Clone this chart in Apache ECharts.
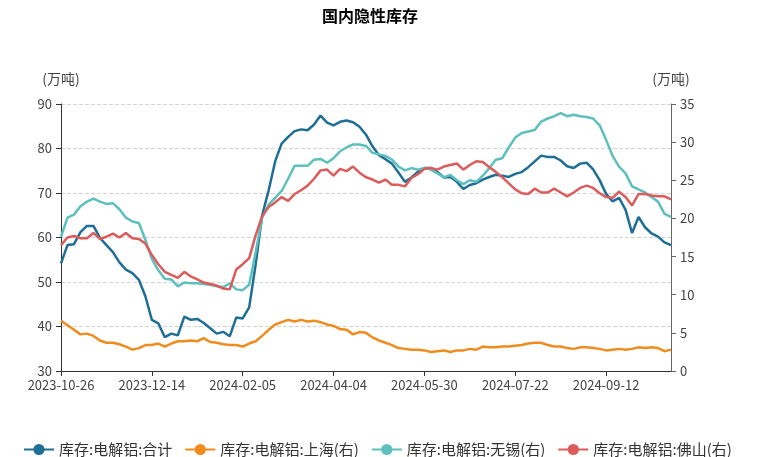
<!DOCTYPE html>
<html>
<head>
<meta charset="utf-8">
<script src="https://cdn.jsdelivr.net/npm/echarts@6/dist/echarts.min.js"></script>
<style>html,body{margin:0;padding:0;background:#fff;}#c{width:763px;height:457px;}</style>
</head>
<body>
<div id="c"></div>
<script>
const titleText = '国内隐性库存';
const unitName = '(万吨)';
const seriesNames = ['库存:电解铝:合计', '库存:电解铝:上海(右)', '库存:电解铝:无锡(右)', '库存:电解铝:佛山(右)'];

const dates = [
'2023-10-26','2023-10-30','2023-11-02','2023-11-06','2023-11-09','2023-11-13','2023-11-16','2023-11-20','2023-11-23','2023-11-27',
'2023-11-30','2023-12-04','2023-12-07','2023-12-11','2023-12-14','2023-12-18','2023-12-21','2023-12-25','2023-12-28','2024-01-04',
'2024-01-08','2024-01-11','2024-01-15','2024-01-18','2024-01-22','2024-01-25','2024-01-29','2024-02-01','2024-02-05','2024-02-08',
'2024-02-19','2024-02-22','2024-02-26','2024-02-29','2024-03-04','2024-03-07','2024-03-11','2024-03-14','2024-03-18','2024-03-21',
'2024-03-25','2024-04-01','2024-04-04','2024-04-08','2024-04-11','2024-04-15','2024-04-18','2024-04-22','2024-04-25','2024-04-29',
'2024-05-06','2024-05-09','2024-05-13','2024-05-16','2024-05-20','2024-05-23','2024-05-30','2024-06-03','2024-06-06','2024-06-13',
'2024-06-17','2024-06-20','2024-06-24','2024-06-27','2024-07-01','2024-07-04','2024-07-08','2024-07-11','2024-07-15','2024-07-18',
'2024-07-22','2024-07-25','2024-07-29','2024-08-01','2024-08-05','2024-08-08','2024-08-12','2024-08-15','2024-08-19','2024-08-22',
'2024-08-26','2024-08-29','2024-09-02','2024-09-05','2024-09-12','2024-09-19','2024-09-23','2024-09-26','2024-09-29','2024-10-08',
'2024-10-10','2024-10-14','2024-10-17','2024-10-21','2024-10-24'
];

// 合计 (left axis)
const totalStock = [
54.2,58.3,58.5,61.2,62.6,62.6,59.9,58.3,56.7,54.4,
52.8,52.0,50.5,46.8,41.5,40.7,37.6,38.4,38.0,42.2,
41.5,41.7,40.8,39.6,38.4,38.8,37.8,42.0,41.8,44.3,
54.0,65.0,70.6,77.1,81.1,82.6,83.9,84.3,84.1,85.4,
87.4,85.8,85.2,86.0,86.3,85.9,84.9,83.1,80.5,78.5,
77.6,76.6,74.6,72.5,73.5,74.8,75.6,75.6,74.7,73.5,
73.6,72.5,70.9,71.8,72.2,73.0,73.6,74.1,73.9,73.6,
74.3,74.7,75.8,77.1,78.4,78.1,78.1,77.3,76.0,75.6,
76.6,76.8,75.3,72.9,69.8,68.1,68.9,66.2,61.0,64.6,
62.3,60.9,60.2,58.9,58.3
];

// 上海 (right axis)
const shanghaiStock = [
6.6,6.0,5.4,4.8,4.9,4.6,4.0,3.7,3.7,3.5,
3.2,2.8,3.0,3.4,3.4,3.6,3.2,3.6,3.9,3.9,
4.0,3.9,4.3,3.8,3.7,3.5,3.4,3.4,3.2,3.6,
3.9,4.6,5.4,6.1,6.4,6.7,6.5,6.7,6.5,6.6,
6.4,6.1,5.9,5.5,5.4,4.8,5.1,5.0,4.4,4.0,
3.7,3.4,3.0,2.9,2.8,2.8,2.7,2.5,2.6,2.7,
2.5,2.7,2.7,2.9,2.8,3.2,3.1,3.1,3.2,3.2,
3.3,3.4,3.6,3.7,3.7,3.4,3.2,3.2,3.0,2.9,
3.1,3.1,3.0,2.9,2.7,2.8,2.9,2.8,2.9,3.1,
3.0,3.1,3.0,2.6,2.8
];

// 无锡 (right axis)
const wuxiStock = [
17.6,20.1,20.5,21.6,22.2,22.6,22.2,21.9,22.0,21.2,
20.1,19.6,19.4,17.2,14.7,13.2,12.1,12.0,11.1,11.6,
11.5,11.5,11.4,11.3,11.1,11.0,11.5,10.7,10.6,11.3,
15.6,20.1,21.8,22.7,23.6,25.2,26.9,26.9,26.9,27.7,
27.8,27.3,27.9,28.8,29.3,29.7,29.7,29.5,28.6,28.4,
28.2,27.7,26.8,26.3,26.6,26.4,26.6,26.4,25.9,25.4,
25.7,25.0,24.5,25.0,24.8,25.6,26.6,27.7,27.9,29.3,
30.6,31.2,31.4,31.6,32.7,33.1,33.4,33.8,33.4,33.6,
33.4,33.3,33.1,32.2,30.3,28.2,26.8,25.9,24.2,23.8,
23.4,22.8,22.2,20.6,20.2
];

// 佛山 (right axis)
const foshanStock = [
16.5,17.5,17.7,17.4,17.4,18.1,17.3,17.6,18.0,17.5,
18.1,17.4,17.3,16.7,15.2,14.0,13.0,12.6,12.2,13.0,
12.4,12.0,11.6,11.4,11.2,10.8,10.7,13.3,14.0,14.8,
17.8,20.3,21.5,22.1,22.8,22.3,23.2,23.7,24.3,25.2,
26.3,26.4,25.6,26.5,26.2,26.8,26.0,25.4,25.1,24.7,
25.1,24.4,24.4,24.2,25.3,25.8,26.5,26.6,26.4,26.8,
27.0,27.2,26.4,27.0,27.5,27.4,26.7,26.1,25.4,24.6,
23.8,23.3,23.2,23.9,23.4,23.4,23.9,23.4,22.9,23.4,
24.0,24.3,24.0,23.3,22.8,22.7,23.5,22.8,21.7,23.2,
23.2,23.0,22.9,22.9,22.5
];

const colors = ['#1f6e96', '#f08c1e', '#5dc0bc', '#dc5b5b'];
const FONT = '"Noto Sans CJK SC", "Noto Sans", sans-serif';

const chart = echarts.init(document.getElementById('c'), null, {renderer: 'canvas'});

function mkSeries(name, data, yIdx, color) {
  return {
    name: name, type: 'line', data: data, yAxisIndex: yIdx,
    symbol: 'circle', symbolSize: 8, showSymbol: false,
    lineStyle: {width: 2.5, color: color}, itemStyle: {color: color},
    emphasis: {disabled: true}
  };
}

chart.setOption({
  animation: false,
  color: colors,
  title: {
    text: titleText, left: 317, top: 3,
    textStyle: {fontSize: 16, fontWeight: 'bold', color: '#000', fontFamily: FONT}
  },
  legend: {
    left: 18, top: 437, itemWidth: 30, itemHeight: 14, itemGap: 12,
    textStyle: {fontSize: 15, color: '#333', fontFamily: FONT},
    data: seriesNames
  },
  grid: {left: 61, right: 92, top: 104, bottom: 86, containLabel: false},
  xAxis: {
    type: 'category', data: dates, boundaryGap: false,
    axisLine: {lineStyle: {color: '#333', width: 1}},
    axisTick: {show: true, interval: 13, length: 5, lineStyle: {color: '#333'}},
    axisLabel: {interval: 13, fontSize: 13, color: '#444', margin: 8, fontFamily: FONT},
    splitLine: {show: false}
  },
  yAxis: [
    {
      type: 'value', min: 30, max: 90, interval: 10, position: 'left',
      name: unitName, nameLocation: 'end', nameGap: 18,
      nameTextStyle: {fontSize: 14, color: '#444', fontFamily: FONT, align: 'center'},
      axisLine: {show: true, lineStyle: {color: '#333'}},
      axisTick: {show: true, length: 5, lineStyle: {color: '#333'}},
      axisLabel: {fontSize: 13, color: '#444', margin: 9, fontFamily: FONT},
      splitLine: {show: true, lineStyle: {type: 'dashed', color: '#d4d4d4', width: 1}}
    },
    {
      type: 'value', min: 0, max: 35, interval: 5, position: 'right',
      name: unitName, nameLocation: 'end', nameGap: 18,
      nameTextStyle: {fontSize: 14, color: '#444', fontFamily: FONT, align: 'center'},
      axisLine: {show: true, lineStyle: {color: '#666'}},
      axisTick: {show: true, length: 5, lineStyle: {color: '#666'}},
      axisLabel: {fontSize: 13, color: '#444', margin: 9, fontFamily: FONT},
      splitLine: {show: false}
    }
  ],
  series: [
    mkSeries(seriesNames[0], totalStock, 0, colors[0]),
    mkSeries(seriesNames[1], shanghaiStock, 1, colors[1]),
    mkSeries(seriesNames[2], wuxiStock, 1, colors[2]),
    mkSeries(seriesNames[3], foshanStock, 1, colors[3])
  ]
});
</script>
</body>
</html>
